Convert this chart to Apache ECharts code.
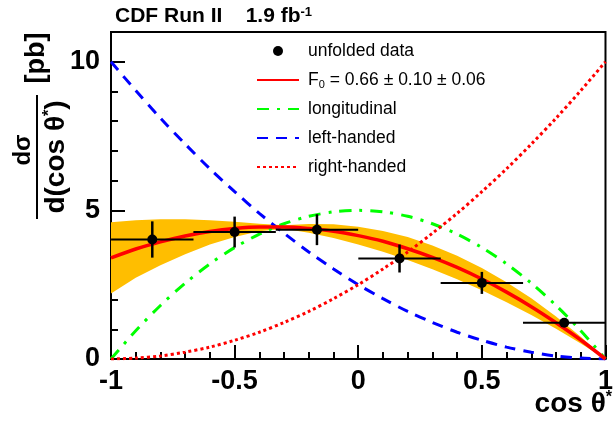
<!DOCTYPE html>
<html>
<head>
<meta charset="utf-8">
<script src="https://cdn.jsdelivr.net/npm/echarts@6/dist/echarts.min.js"></script>
<style>
  html, body { margin: 0; padding: 0; background: #fff; }
  #main { width: 616px; height: 425px; }
</style>
</head>
<body>
<div id="main"></div>
<script>
// unfolded data points (bins of width 1/3)
var binCenters = [-0.833, -0.5, -0.167, 0.167, 0.5, 0.833];
var binHalfWidth = [0.1667, 0.1667, 0.1667, 0.1667, 0.1667, 0.1667];
var unfolded = [4.02, 4.27, 4.35, 3.38, 2.56, 1.22];
var unfoldedErr = [0.61, 0.52, 0.52, 0.47, 0.37, 0.14];

// curves, read at steps of 0.1 in cos theta*
var cosTheta = [-1, -0.9, -0.8, -0.7, -0.6, -0.5, -0.4, -0.3, -0.2, -0.1, 0,
                0.1, 0.2, 0.3, 0.4, 0.5, 0.6, 0.7, 0.8, 0.9, 1];
var fitCurve = [3.40, 3.70, 3.94, 4.14, 4.29, 4.39, 4.44, 4.44, 4.39, 4.30, 4.15,
                3.96, 3.71, 3.42, 3.08, 2.69, 2.25, 1.76, 1.22, 0.64, 0];
var bandLow = [2.20, 2.73, 3.15, 3.52, 3.85, 4.10, 4.30, 4.38, 4.25, 4.07, 3.85,
               3.61, 3.33, 3.02, 2.68, 2.31, 1.91, 1.48, 1.02, 0.52, 0];
var bandHigh = [4.60, 4.67, 4.70, 4.70, 4.67, 4.62, 4.55, 4.50, 4.54, 4.53, 4.45,
                4.31, 4.10, 3.82, 3.47, 3.06, 2.58, 2.04, 1.43, 0.75, 0];
var longitudinal = [0, 0.95, 1.80, 2.55, 3.20, 3.75, 4.20, 4.55, 4.80, 4.95, 5.00,
                    4.95, 4.80, 4.55, 4.20, 3.75, 3.20, 2.55, 1.80, 0.95, 0];
var leftHanded = [10.0, 9.03, 8.10, 7.23, 6.40, 5.63, 4.90, 4.23, 3.60, 3.03, 2.50,
                  2.03, 1.60, 1.23, 0.90, 0.63, 0.40, 0.23, 0.10, 0.03, 0];
var rightHanded = [0, 0.03, 0.10, 0.23, 0.40, 0.63, 0.90, 1.23, 1.60, 2.03, 2.50,
                   3.03, 3.60, 4.23, 4.90, 5.63, 6.40, 7.23, 8.10, 9.03, 10.0];

var FONT = '"Liberation Sans", Arial, Helvetica, sans-serif';

function pairs(ys) {
    return cosTheta.map(function (x, i) { return [x, ys[i]]; });
}

var myChart = echarts.init(document.getElementById('main'), null, { renderer: 'canvas' });

var noSymbol = { color: 'rgba(0,0,0,0)', borderColor: 'rgba(0,0,0,0)', borderWidth: 0, opacity: 0 };

var option = {
    backgroundColor: '#fff',
    animation: false,
    title: {
        text: 'CDF Run II    1.9 fb{sup|-1}',
        left: 110,
        top: 1,
        textStyle: {
            fontFamily: FONT, fontWeight: 'bold', fontSize: 21, color: '#000',
            rich: {
                sup: { fontFamily: FONT, fontWeight: 'bold', fontSize: 13, verticalAlign: 'top', color: '#000' }
            }
        }
    },
    grid: {
        left: 111, right: 4, top: 32, bottom: 66,
        show: true, borderColor: '#000', borderWidth: 2, backgroundColor: 'transparent'
    },
    legend: {
        orient: 'vertical',
        left: 251,
        top: 36,
        itemWidth: 42,
        itemHeight: 10,
        itemGap: 9,
        data: [
            { name: 'unfolded data' },
            { name: 'fit', itemStyle: noSymbol },
            { name: 'longitudinal', itemStyle: noSymbol },
            { name: 'left-handed', itemStyle: noSymbol },
            { name: 'right-handed', itemStyle: noSymbol }
        ],
        formatter: function (name) {
            if (name === 'fit') return 'F{sub|0} = 0.66 ± 0.10 ± 0.06';
            return name;
        },
        textStyle: {
            fontFamily: FONT, fontSize: 17.5, color: '#000', lineHeight: 20,
            padding: [0, 0, 0, 4],
            rich: {
                sub: { fontFamily: FONT, fontSize: 11, verticalAlign: 'bottom', lineHeight: 9, color: '#000' }
            }
        }
    },
    xAxis: {
        type: 'value',
        min: -1, max: 1, interval: 0.5,
        axisLine: { onZero: false, lineStyle: { color: '#000', width: 2 } },
        axisTick: { inside: true, length: 14, lineStyle: { color: '#000', width: 2 } },
        minorTick: { show: true, splitNumber: 5, length: 7, lineStyle: { color: '#000', width: 2 } },
        splitLine: { show: false },
        axisLabel: { color: '#000', fontFamily: FONT, fontWeight: 'bold', fontSize: 27, margin: 9 }
    },
    yAxis: [{
        type: 'value',
        min: 0, max: 11, interval: 1,
        axisLine: { show: true, onZero: false, lineStyle: { color: '#000', width: 2 } },
        axisTick: { inside: true, length: 7, lineStyle: { color: '#000', width: 2 } },
        splitLine: { show: false },
        axisLabel: {
            color: '#000', fontFamily: FONT, fontWeight: 'bold', fontSize: 27, margin: 11,
            formatter: function (v) { return (v % 5 === 0 && v <= 10) ? String(v) : ''; }
        }
    }, {
        type: 'value',
        position: 'left',
        min: 0, max: 11, interval: 5,
        axisLine: { show: false, onZero: false },
        axisTick: { show: true, inside: true, length: 14, lineStyle: { color: '#000', width: 2 } },
        axisLabel: { show: false },
        splitLine: { show: false }
    }],
    graphic: [{
        type: 'group',
        x: 37, y: 157,
        rotation: Math.PI / 2,
        children: [{
            type: 'line',
            shape: { x1: -62, y1: 0, x2: 62, y2: 0 },
            style: { stroke: '#000', lineWidth: 2 }
        }, {
            type: 'text',
            x: 7, y: -2,
            style: { text: 'dσ', fontFamily: FONT, fontWeight: 'bold', fontSize: 24, fill: '#000', align: 'center', verticalAlign: 'bottom' }
        }, {
            type: 'text',
            x: 0, y: 5,
            style: {
                text: 'd(cos θ{sup|*})', fontFamily: FONT, fontWeight: 'bold', fontSize: 28, fill: '#000',
                align: 'center', verticalAlign: 'top',
                rich: { sup: { fontFamily: FONT, fontWeight: 'bold', fontSize: 16, verticalAlign: 'top', fill: '#000' } }
            }
        }, {
            type: 'text',
            x: 99, y: 0,
            style: { text: '[pb]', fontFamily: FONT, fontWeight: 'bold', fontSize: 27, fill: '#000', align: 'center', verticalAlign: 'middle' }
        }]
    }, {
        type: 'text',
        right: 4,
        top: 390,
        style: {
            text: 'cos θ{sup|*}', fontFamily: FONT, fontWeight: 'bold', fontSize: 28, fill: '#000',
            rich: { sup: { fontFamily: FONT, fontWeight: 'bold', fontSize: 16, verticalAlign: 'top', fill: '#000' } }
        }
    }],
    series: [{
        name: 'band',
        type: 'custom',
        data: [0],
        silent: true,
        renderItem: function (params, api) {
            var pts = [];
            for (var i = 0; i < cosTheta.length; i++) pts.push(api.coord([cosTheta[i], bandHigh[i]]));
            for (var j = cosTheta.length - 1; j >= 0; j--) pts.push(api.coord([cosTheta[j], bandLow[j]]));
            return {
                type: 'polygon',
                shape: { points: pts },
                style: { fill: '#ffbe00', stroke: 'none' }
            };
        },
        z: 1
    }, {
        name: 'longitudinal',
        type: 'line',
        data: pairs(longitudinal),
        smooth: 0.3,
        symbol: 'none',
        color: '#00ff00',
        lineStyle: { color: '#00ff00', width: 3, type: [12, 8, 3, 8] },
        z: 3
    }, {
        name: 'left-handed',
        type: 'line',
        data: pairs(leftHanded),
        smooth: 0.3,
        symbol: 'none',
        color: '#0000ff',
        lineStyle: { color: '#0000ff', width: 3, type: [11, 8] },
        z: 3
    }, {
        name: 'right-handed',
        type: 'line',
        data: pairs(rightHanded),
        smooth: 0.3,
        symbol: 'none',
        color: '#ff0000',
        lineStyle: { color: '#ff0000', width: 3, type: [3, 3] },
        z: 3
    }, {
        name: 'fit',
        type: 'line',
        data: pairs(fitCurve),
        smooth: 0.3,
        symbol: 'none',
        color: '#ff0000',
        lineStyle: { color: '#ff0000', width: 3.5 },
        z: 4
    }, {
        name: 'errors',
        type: 'custom',
        data: binCenters.map(function (x, i) { return [x, unfolded[i], binHalfWidth[i], unfoldedErr[i]]; }),
        renderItem: function (params, api) {
            var x = api.value(0), y = api.value(1), ex = api.value(2), ey = api.value(3);
            var l = api.coord([x - ex, y]), r = api.coord([x + ex, y]);
            var t = api.coord([x, y + ey]), b = api.coord([x, y - ey]);
            return {
                type: 'group',
                children: [{
                    type: 'line',
                    shape: { x1: l[0], y1: l[1], x2: r[0], y2: r[1] },
                    style: { stroke: '#000', lineWidth: 2 }
                }, {
                    type: 'line',
                    shape: { x1: t[0], y1: t[1], x2: b[0], y2: b[1] },
                    style: { stroke: '#000', lineWidth: 2.5 }
                }]
            };
        },
        z: 5
    }, {
        name: 'unfolded data',
        type: 'scatter',
        data: binCenters.map(function (x, i) { return [x, unfolded[i]]; }),
        symbol: 'circle',
        symbolSize: 10,
        itemStyle: { color: '#000', opacity: 1 },
        z: 6
    }]
};

myChart.setOption(option);
</script>
</body>
</html>
